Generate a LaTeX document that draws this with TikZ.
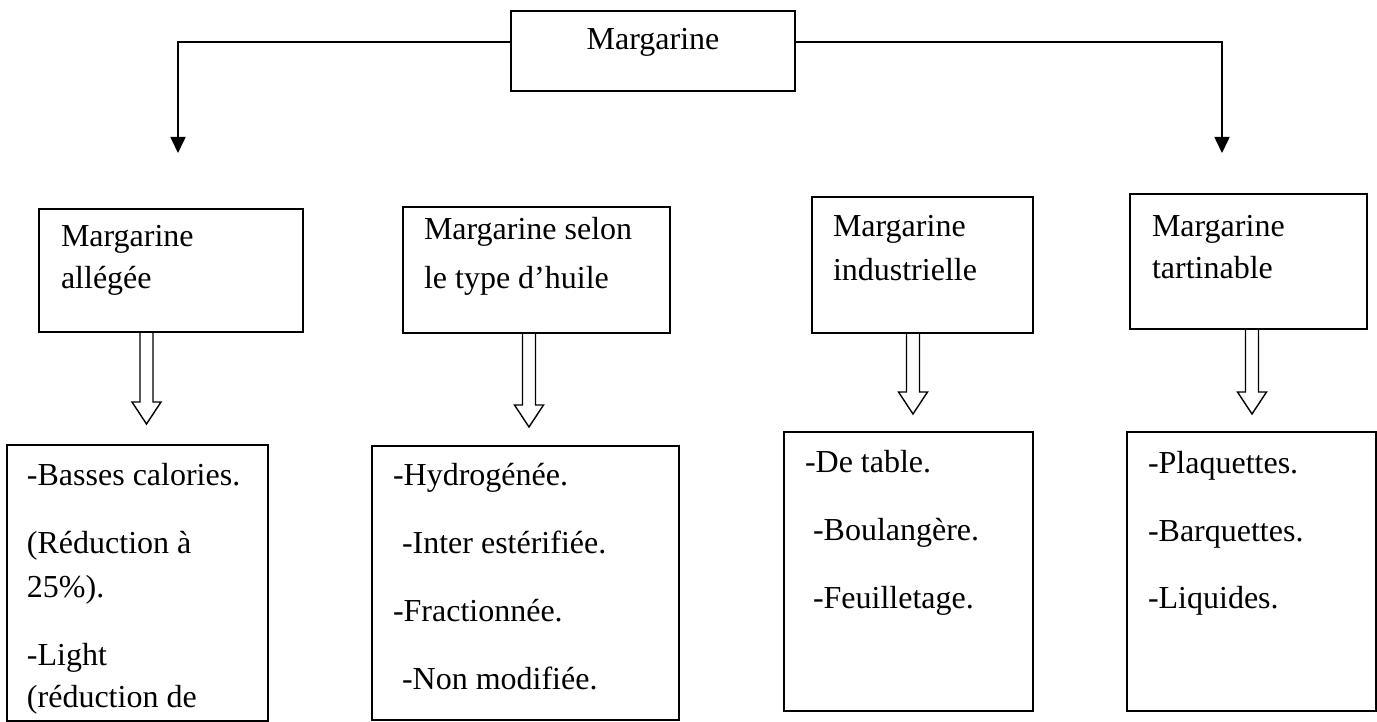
\documentclass[tikz,border=0pt]{standalone}
\usepackage{fontspec}
\setmainfont{Liberation Serif}
\usetikzlibrary{arrows.meta,calc}
\tikzset{
  box/.style={draw, line width=1.6pt, rectangle, inner sep=0pt, outer sep=0pt, anchor=north west},
  txt/.style={anchor=base west, inner sep=0pt, outer sep=0pt, font=\fontsize{32pt}{38pt}\selectfont},
  conn/.style={line width=1.6pt, -{Triangle[width=15pt,length=16pt]}},
  hollow/.style={line width=1.4pt, line join=miter},
}
\newcommand\hollowarrow[2]{%
  \draw[hollow] let \p1=(#1), \p2=(#2) in
    (\x1-6.5pt,\y1) -- (\x1-6.5pt,\y2+22pt) -- (\x1-14.5pt,\y2+22pt) -- (\x2,\y2)
    -- (\x1+14.5pt,\y2+22pt) -- (\x1+6.5pt,\y2+22pt) -- (\x1+6.5pt,\y1);
}
\begin{document}
\begin{tikzpicture}[x=1pt,y=-1pt]
\useasboundingbox (0,0) rectangle (1377,722);

% top box
\node[box, minimum width=284pt, minimum height=80pt] (top) at (511,11) {};
\node[txt, anchor=base] (toptxt) at (653,50) {Margarine};

% upper boxes
\node[box, minimum width=264pt, minimum height=123pt] (ua) at (39,209) {};
\node[box, minimum width=267pt, minimum height=126pt] (ub) at (403,207) {};
\node[box, minimum width=221pt, minimum height=136pt] (uc) at (812,197) {};
\node[box, minimum width=237pt, minimum height=135pt] (ud) at (1130,194) {};

\node[txt] (ua1) at (61,247) {Margarine};
\node[txt] (ua2) at (61,289) {allégée};
\node[txt] (ub1) at (424,240) {Margarine selon};
\node[txt] (ub2) at (424,288) {le type d’huile};
\node[txt] (uc1) at (833,237) {Margarine};
\node[txt] (uc2) at (833,280) {industrielle};
\node[txt] (ud1) at (1152,237) {Margarine};
\node[txt] (ud2) at (1152,279) {tartinable};

% lower boxes
\node[box, minimum width=261pt, minimum height=276pt] (la) at (7,445) {};
\node[box, minimum width=307pt, minimum height=274pt] (lb) at (372,446) {};
\node[box, minimum width=249pt, minimum height=279pt] (lc) at (784,432) {};
\node[box, minimum width=249pt, minimum height=279pt] (ld) at (1127,432) {};

\node[txt] (la1) at (27,485) {-Basses calories.};
\node[txt] (la2) at (27,553) {(Réduction à};
\node[txt] (la3) at (27,597) {25\%).};
\node[txt] (la4) at (27,665) {-Light};
\node[txt] (la5) at (27,707) {(réduction de};

\node[txt] (lb1) at (393,485) {-Hydrogénée.};
\node[txt] (lb2) at (402,553) {-Inter estérifiée.};
\node[txt] (lb3) at (393,621) {-Fractionnée.};
\node[txt] (lb4) at (402,689) {-Non modifiée.};

\node[txt] (lc1) at (805,472) {-De table.};
\node[txt] (lc2) at (813,540) {-Boulangère.};
\node[txt] (lc3) at (813,608) {-Feuilletage.};

\node[txt] (ld1) at (1148,473) {-Plaquettes.};
\node[txt] (ld2) at (1148,541) {-Barquettes.};
\node[txt] (ld3) at (1148,608) {-Liquides.};

% top connectors
\coordinate (al) at (178,153);
\coordinate (ar) at (1222,153);
\draw[conn] ([yshift=9pt]top.west) -| (al);
\draw[conn] ([yshift=9pt]top.east) -| (ar);

% hollow arrows
\coordinate (ta) at (146.5,424);
\coordinate (tb) at (529,427);
\coordinate (tc) at (913,414);
\coordinate (td) at (1252,414);
\hollowarrow{ta |- ua.south}{ta}
\hollowarrow{tb |- ub.south}{tb}
\hollowarrow{tc |- uc.south}{tc}
\hollowarrow{td |- ud.south}{td}
\end{tikzpicture}
\end{document}
